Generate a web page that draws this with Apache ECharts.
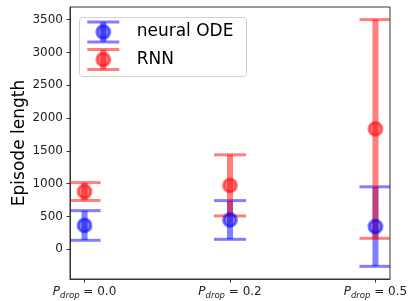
<!DOCTYPE html>
<html><head><meta charset="utf-8">
<script src="https://cdn.jsdelivr.net/npm/echarts@6/dist/echarts.min.js"></script>
<style>html,body{margin:0;padding:0;background:#fff}#c{width:409px;height:301px}</style>
</head><body><div id="c"></div>
<script>
const categories = ['0.0', '0.2', '0.5'];
const seriesNames = ['neural ODE', 'RNN'];
const odeMean = [364, 448, 347];
const odeErr = [226, 295, 606];
const rnnMean = [881, 975, 1835];
const rnnErr = [136, 466, 1667];
const yTicks = [0, 500, 1000, 1500, 2000, 2500, 3000, 3500];
const yLabel = 'Episode length';

const FONT = 'DejaVu Sans';
const BLUE = '#0000ff', RED = '#ff0000';
const chart = echarts.init(document.getElementById('c'), null, {renderer: 'canvas'});

function rows(m, e) { return m.map((v, i) => [i, v, e[i]]); }

function errRender(color) {
  return function (params, api) {
    const cs = params.coordSys;
    const x = api.value(0), m = api.value(1), e = api.value(2);
    const top = api.coord([x, m + e]);
    const bot = api.coord([x, m - e]);
    const hw = 16;
    const l = Math.max(cs.x, top[0] - hw), r = Math.min(cs.x + cs.width, top[0] + hw);
    return {
      type: 'group',
      children: [
        {type: 'line', shape: {x1: top[0], y1: top[1], x2: bot[0], y2: bot[1]},
         style: {stroke: color, lineWidth: 6, opacity: 0.5}},
        {type: 'line', shape: {x1: l, y1: top[1], x2: r, y2: top[1]},
         style: {stroke: color, lineWidth: 3, opacity: 0.5}},
        {type: 'line', shape: {x1: l, y1: bot[1], x2: r, y2: bot[1]},
         style: {stroke: color, lineWidth: 3, opacity: 0.5}}
      ]
    };
  };
}
function markRender(color) {
  return function (params, api) {
    const p = api.coord([api.value(0), api.value(1)]);
    return {type: 'circle', shape: {cx: p[0], cy: p[1], r: 6.5},
            style: {fill: color, stroke: color, lineWidth: 3, opacity: 0.5}};
  };
}

function legendItem(color, name, cy) {
  const x0 = 87.3, x1 = 119.3, xc = 103.3;
  return [
    {type: 'line', shape: {x1: xc, y1: cy - 10, x2: xc, y2: cy + 10}, style: {stroke: color, lineWidth: 6, opacity: 0.5}},
    {type: 'line', shape: {x1: x0, y1: cy - 10, x2: x1, y2: cy - 10}, style: {stroke: color, lineWidth: 3, opacity: 0.5}},
    {type: 'line', shape: {x1: x0, y1: cy + 10, x2: x1, y2: cy + 10}, style: {stroke: color, lineWidth: 3, opacity: 0.5}},
    {type: 'circle', shape: {cx: xc, cy: cy, r: 6.5}, style: {fill: color, stroke: color, lineWidth: 3, opacity: 0.5}},
    {type: 'text', x: 136.7, y: cy, style: {text: name, fontSize: 17, fontFamily: FONT, fill: '#000', verticalAlign: 'middle', align: 'left'}}
  ];
}

const option = {
  animation: false,
  grid: {left: 70, right: 19, top: 7, bottom: 22, show: true, borderColor: '#333', borderWidth: 1,
         backgroundColor: 'transparent', containLabel: false, outerBoundsMode: 'none'},
  xAxis: {
    type: 'value', min: -0.1, max: 2.1,
    splitLine: {show: false},
    axisLine: {show: true, onZero: false, lineStyle: {color: '#333', width: 1}},
    axisTick: {show: true, inside: false, length: 3.5, customValues: [0, 1, 2], lineStyle: {color: '#333'}},
    axisLabel: {
      customValues: [0, 1, 2], margin: 5, color: '#222', fontFamily: FONT, fontSize: 12,
      hideOverlap: false,
      formatter: v => '{p|P}{s|drop}{n| = ' + categories[Math.round(v)] + '}',
      rich: {
        p: {fontStyle: 'italic', fontSize: 12, fontFamily: FONT, color: '#222'},
        s: {fontStyle: 'italic', fontSize: 8.5, fontFamily: FONT, color: '#222', padding: [7, 0, 0, 0]},
        n: {fontSize: 12, fontFamily: FONT, color: '#222'}
      }
    }
  },
  yAxis: {
    type: 'value', min: -452, max: 3694,
    name: yLabel, nameLocation: 'middle', nameGap: 42, nameMoveOverlap: false,
    nameTextStyle: {fontSize: 17, fontFamily: FONT, color: '#000'},
    splitLine: {show: false},
    axisLine: {show: true, onZero: false, lineStyle: {color: '#333', width: 1}},
    axisTick: {show: true, inside: false, length: 3.5, customValues: yTicks, lineStyle: {color: '#333'}},
    axisLabel: {customValues: yTicks, margin: 7, color: '#222', fontFamily: FONT, fontSize: 12,
                formatter: v => String(v)}
  },
  series: [
    {type: 'custom', name: seriesNames[0], data: rows(odeMean, odeErr), renderItem: errRender(BLUE), z: 2},
    {type: 'custom', name: seriesNames[1], data: rows(rnnMean, rnnErr), renderItem: errRender(RED), z: 3},
    {type: 'custom', name: seriesNames[0], data: rows(odeMean, odeErr), renderItem: markRender(BLUE), z: 4},
    {type: 'custom', name: seriesNames[1], data: rows(rnnMean, rnnErr), renderItem: markRender(RED), z: 5}
  ],
  graphic: [{
    type: 'group', z: 100,
    children: [
      {type: 'rect', shape: {x: 79.5, y: 17.5, width: 167, height: 59, r: 3},
       style: {fill: 'rgba(255,255,255,0.8)', stroke: '#d0d0d0', lineWidth: 1}}
    ].concat(legendItem(BLUE, seriesNames[0], 32)).concat(legendItem(RED, seriesNames[1], 59.5))
  }]
};
chart.setOption(option);
</script></body></html>
